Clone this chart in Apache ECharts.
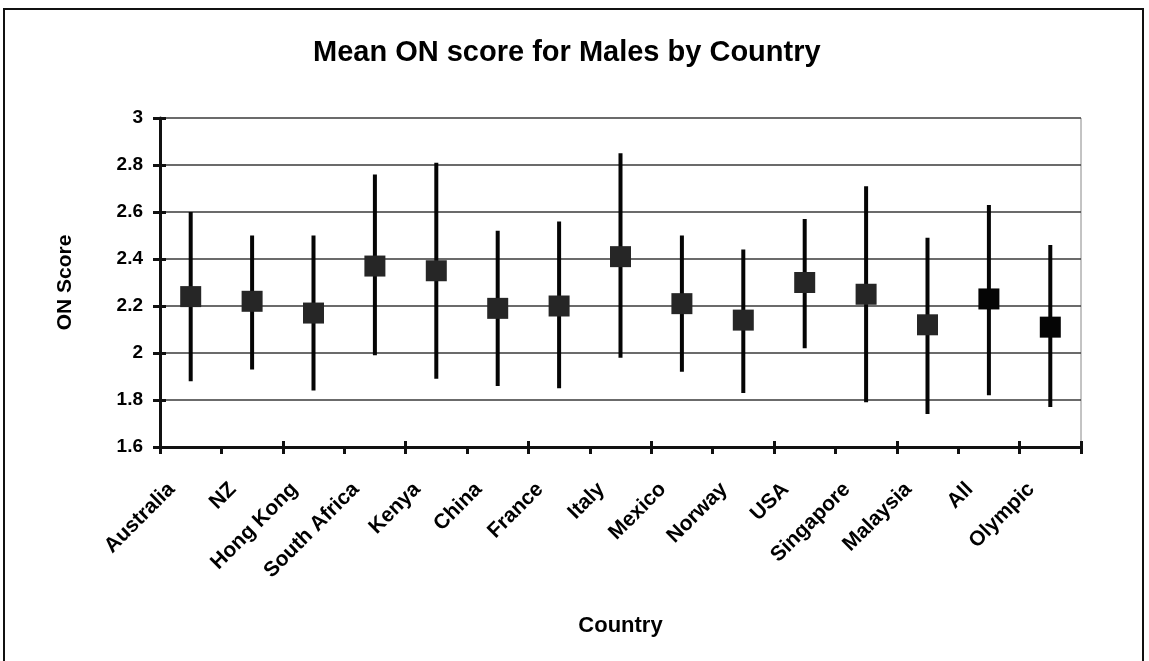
<!DOCTYPE html>
<html>
<head>
<meta charset="utf-8">
<script src="https://cdn.jsdelivr.net/npm/echarts@6/dist/echarts.min.js"></script>
<style>
  html, body { margin: 0; padding: 0; background: #fff; }
  #main { width: 1149px; height: 661px; position: relative; }
  #frame { position: absolute; left: 3px; top: 8px; width: 1137px; height: 660px;
           border-left: 2px solid #111; border-top: 2px solid #111; border-right: 2px solid #111;
           pointer-events: none; }
</style>
</head>
<body>
<div id="main"></div>
<div id="frame"></div>
<script>
// 数据
var countries = ['Australia', 'NZ', 'Hong Kong', 'South Africa', 'Kenya', 'China', 'France', 'Italy',
                 'Mexico', 'Norway', 'USA', 'Singapore', 'Malaysia', 'All', 'Olympic'];
var means = [2.24, 2.22, 2.17, 2.37, 2.35, 2.19, 2.20, 2.41, 2.21, 2.14, 2.30, 2.25, 2.12, 2.23, 2.11];
var upper = [2.60, 2.50, 2.50, 2.76, 2.81, 2.52, 2.56, 2.85, 2.50, 2.44, 2.57, 2.71, 2.49, 2.63, 2.46];
var lower = [1.88, 1.93, 1.84, 1.99, 1.89, 1.86, 1.85, 1.98, 1.92, 1.83, 2.02, 1.79, 1.74, 1.82, 1.77];
var yTicks = { min: 1.6, max: 3, step: 0.2 };

var chart = echarts.init(document.getElementById('main'));

var errData = countries.map(function (c, i) { return [i, lower[i], upper[i]]; });
var meanData = means.map(function (m, i) {
    return {
        value: [i, m],
        itemStyle: { color: (i >= 13) ? '#050505' : '#262626', opacity: 1 }
    };
});

var font = '"Liberation Sans", Arial, sans-serif';
var tickStyle = { color: '#111', width: 3 };

chart.setOption({
    animation: false,
    title: {
        text: 'Mean ON score for Males by Country',
        left: 308,
        top: 33,
        textStyle: { fontFamily: font, fontSize: 29, fontWeight: 'bold', color: '#000' }
    },
    grid: { left: 160, right: 68, top: 118, bottom: 214 },
    xAxis: [
        {
            type: 'category',
            data: countries,
            boundaryGap: true,
            name: 'Country',
            nameLocation: 'middle',
            nameGap: 168,
            nameTextStyle: { fontFamily: font, fontSize: 22, fontWeight: 'bold', color: '#000' },
            axisLine: { lineStyle: { color: '#111', width: 3 } },
            axisTick: { show: true, length: 7, lineStyle: tickStyle },
            axisLabel: {
                interval: 0,
                rotate: 45,
                margin: 20,
                padding: [0, 27, 0, 0],
                fontFamily: font,
                fontSize: 21,
                fontWeight: 'bold',
                color: '#000'
            },
            splitLine: { show: false }
        },
        {
            // 刻度线穿过坐标轴
            type: 'category',
            data: countries,
            position: 'bottom',
            boundaryGap: true,
            axisLine: { show: false },
            axisTick: { show: true, inside: true, length: 6, lineStyle: tickStyle },
            axisLabel: { show: false },
            splitLine: { show: false }
        }
    ],
    yAxis: [
        {
            type: 'value',
            min: yTicks.min,
            max: yTicks.max,
            interval: yTicks.step,
            name: 'ON Score',
            nameLocation: 'middle',
            nameGap: 84,
            nameRotate: 90,
            nameTextStyle: { fontFamily: font, fontSize: 21, fontWeight: 'bold', color: '#000' },
            axisLine: { show: true, lineStyle: { color: '#111', width: 3 } },
            axisTick: { show: true, length: 7, lineStyle: tickStyle },
            axisLabel: {
                margin: 17,
                fontFamily: font,
                fontSize: 19,
                fontWeight: 'bold',
                color: '#000',
                formatter: function (v) { return String(Math.round(v * 10) / 10); }
            },
            splitLine: { show: true, lineStyle: { color: '#3a3a3a', width: 1.5 } }
        },
        {
            type: 'value',
            position: 'left',
            min: yTicks.min,
            max: yTicks.max,
            interval: yTicks.step,
            axisLine: { show: false },
            axisTick: { show: true, inside: true, length: 6, lineStyle: tickStyle },
            axisLabel: { show: false },
            splitLine: { show: false }
        }
    ],
    series: [
        {
            type: 'custom',
            data: errData,
            renderItem: function (params, api) {
                var x = api.value(0);
                var lo = api.coord([x, api.value(1)]);
                var hi = api.coord([x, api.value(2)]);
                return {
                    type: 'line',
                    shape: { x1: lo[0], y1: lo[1], x2: hi[0], y2: hi[1] },
                    style: { stroke: '#050505', lineWidth: 4 }
                };
            },
            z: 3
        },
        {
            type: 'scatter',
            data: meanData,
            symbol: 'rect',
            symbolSize: 21,
            z: 4
        }
    ],
    graphic: [
        {
            type: 'line',
            shape: { x1: 1081, y1: 118, x2: 1081, y2: 447 },
            style: { stroke: '#888', lineWidth: 1 }
        }
    ]
});
</script>
</body>
</html>
